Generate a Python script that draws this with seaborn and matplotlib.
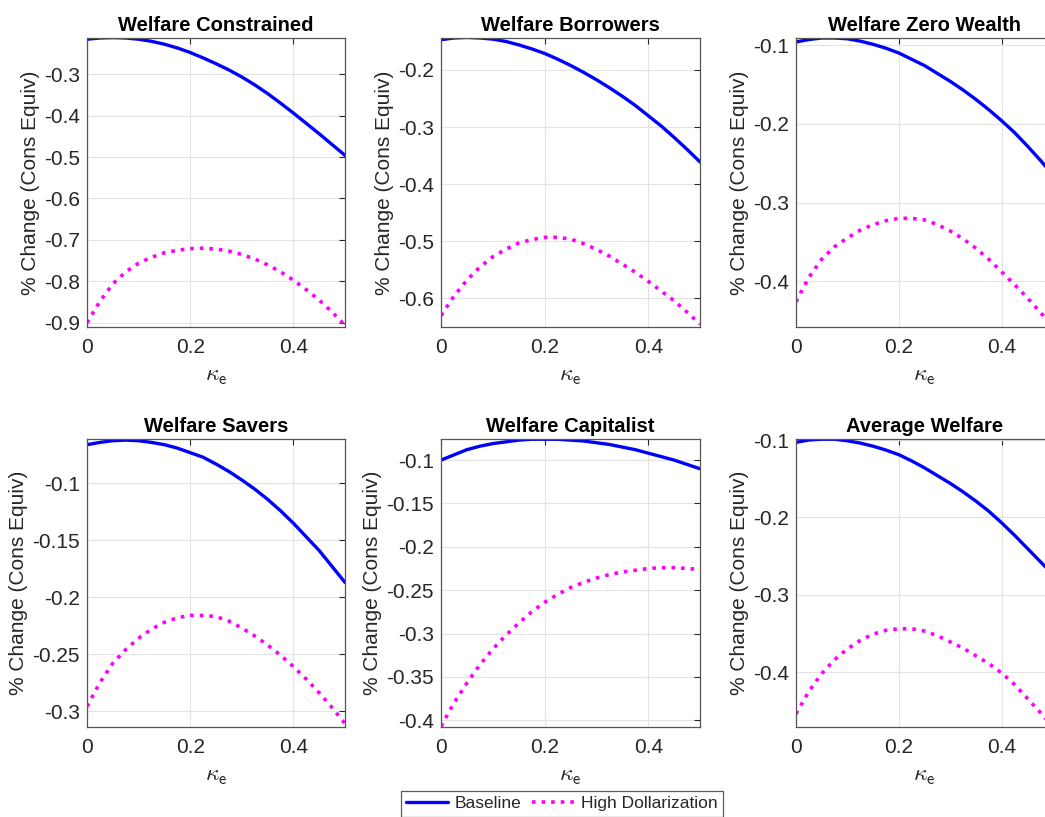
import numpy as np
import seaborn as sns
import matplotlib.pyplot as plt
from matplotlib.ticker import MultipleLocator
from matplotlib.lines import Line2D

# kappa_e grid and welfare changes
kappa = [0.0, 0.025, 0.05, 0.075, 0.10, 0.125, 0.15, 0.175, 0.20, 0.225, 0.25,
         0.275, 0.30, 0.325, 0.35, 0.375, 0.40, 0.425, 0.45, 0.475, 0.50]

titles = ['Welfare Constrained', 'Welfare Borrowers', 'Welfare Zero Wealth',
          'Welfare Savers', 'Welfare Capitalist', 'Average Welfare']

baseline_constrained = [-0.216, -0.213, -0.212, -0.213, -0.216, -0.221, -0.228, -0.237, -0.248, -0.261, -0.275,
                        -0.290, -0.307, -0.326, -0.347, -0.370, -0.394, -0.419, -0.444, -0.470, -0.496]
highdol_constrained = [-0.900, -0.848, -0.806, -0.777, -0.756, -0.742, -0.731, -0.725, -0.721, -0.720, -0.722,
                       -0.727, -0.735, -0.746, -0.760, -0.777, -0.797, -0.820, -0.845, -0.874, -0.906]

baseline_borrowers = [-0.147, -0.144, -0.143, -0.144, -0.146, -0.150, -0.156, -0.163, -0.171, -0.181, -0.192,
                      -0.204, -0.217, -0.231, -0.246, -0.262, -0.280, -0.298, -0.318, -0.339, -0.361]
highdol_borrowers = [-0.630, -0.596, -0.568, -0.545, -0.527, -0.514, -0.503, -0.497, -0.493, -0.493, -0.496,
                     -0.504, -0.514, -0.526, -0.540, -0.554, -0.570, -0.587, -0.604, -0.624, -0.645]

baseline_zero = [-0.096, -0.093, -0.091, -0.091, -0.092, -0.095, -0.099, -0.104, -0.110, -0.118, -0.126,
                 -0.136, -0.146, -0.157, -0.169, -0.182, -0.196, -0.211, -0.228, -0.246, -0.265]
highdol_zero = [-0.426, -0.395, -0.372, -0.356, -0.345, -0.335, -0.328, -0.323, -0.320, -0.320, -0.322,
                -0.328, -0.336, -0.346, -0.358, -0.372, -0.388, -0.404, -0.421, -0.439, -0.458]

baseline_savers = [-0.066, -0.064, -0.0625, -0.062, -0.0625, -0.064, -0.066, -0.069, -0.073, -0.077, -0.083,
                   -0.0895, -0.097, -0.105, -0.114, -0.124, -0.135, -0.147, -0.159, -0.173, -0.187]
highdol_savers = [-0.296, -0.275, -0.258, -0.246, -0.236, -0.228, -0.222, -0.218, -0.216, -0.216, -0.217,
                  -0.221, -0.227, -0.234, -0.242, -0.251, -0.261, -0.272, -0.284, -0.297, -0.311]

baseline_capitalist = [-0.100, -0.094, -0.088, -0.084, -0.081, -0.079, -0.077, -0.076, -0.076, -0.076, -0.077,
                       -0.078, -0.080, -0.082, -0.085, -0.088, -0.092, -0.096, -0.100, -0.105, -0.110]
highdol_capitalist = [-0.407, -0.380, -0.357, -0.336, -0.318, -0.302, -0.288, -0.275, -0.264, -0.255, -0.247,
                      -0.241, -0.236, -0.232, -0.229, -0.227, -0.225, -0.224, -0.224, -0.225, -0.226]

baseline_average = [-0.103, -0.100, -0.099, -0.099, -0.101, -0.104, -0.108, -0.113, -0.119, -0.127, -0.136,
                    -0.146, -0.156, -0.167, -0.179, -0.192, -0.207, -0.223, -0.240, -0.257, -0.274]
highdol_average = [-0.454, -0.425, -0.402, -0.384, -0.370, -0.359, -0.351, -0.346, -0.344, -0.344, -0.347,
                   -0.353, -0.361, -0.369, -0.379, -0.389, -0.401, -0.416, -0.434, -0.452, -0.471]

baselines = [baseline_constrained, baseline_borrowers, baseline_zero,
             baseline_savers, baseline_capitalist, baseline_average]
highdols = [highdol_constrained, highdol_borrowers, highdol_zero,
            highdol_savers, highdol_capitalist, highdol_average]

# axis limits and tick steps (like matlab "axis tight")
ylims = [(-0.910, -0.213), (-0.650, -0.144), (-0.458, -0.091),
         (-0.314, -0.061), (-0.4077, -0.0757), (-0.471, -0.0987)]
ysteps = [0.1, 0.1, 0.1, 0.05, 0.05, 0.1]

sns.set_style('white')
plt.rcParams['font.family'] = ['Liberation Sans', 'DejaVu Sans']
plt.rcParams['axes.unicode_minus'] = False
plt.rcParams['mathtext.fontset'] = 'cm'

W, H = 1045, 817
fig = plt.figure(figsize=(W / 100, H / 100), dpi=100)

# axes boxes in pixels
lefts = [87, 441, 796]
tops = [38, 439]
widths = [258, 259, 257]
heights = [289, 288]

grey = '#262626'
for i in range(6):
    r, c = divmod(i, 3)
    l, t, w, h = lefts[c], tops[r], widths[c], heights[r]
    ax = fig.add_axes([l / W, 1 - (t + h) / H, w / W, h / H])

    sns.lineplot(x=kappa, y=baselines[i], ax=ax, color='#0000ff', lw=2.4, legend=False)
    sns.lineplot(x=kappa, y=highdols[i], ax=ax, color='#ff00ff', lw=2.6, linestyle=':', legend=False)

    ax.set_xlim(0, 0.5)
    ax.set_ylim(*ylims[i])
    ax.xaxis.set_major_locator(MultipleLocator(0.2))
    ax.xaxis.set_major_formatter(plt.FuncFormatter(lambda v, p: '%g' % round(v, 3)))
    ax.yaxis.set_major_locator(MultipleLocator(ysteps[i]))
    ax.yaxis.set_major_formatter(plt.FuncFormatter(lambda v, p: '%g' % round(v, 3)))

    ax.grid(True, color='#e3e3e3', lw=0.8)
    ax.tick_params(direction='in', length=4, width=0.8, colors=grey, labelsize=15,
                   top=True, right=True)
    ax.tick_params(axis='x', pad=8)
    ax.tick_params(axis='y', pad=5)
    for s in ax.spines.values():
        s.set_color('#555555')
        s.set_linewidth(0.9)

    ax.set_title(titles[i], fontsize=14.5, fontweight='bold', color='black', pad=5)
    ax.set_ylabel('% Change (Cons Equiv)', fontsize=15, color=grey, labelpad=3)
    ax.set_xlabel(r'$\kappa_{\mathsf{e}}$', fontsize=17, color=grey, labelpad=6)

handles = [Line2D([], [], color='#0000ff', lw=2.4),
           Line2D([], [], color='#ff00ff', lw=2.6, linestyle=':')]
leg = fig.legend(handles, ['Baseline', 'High Dollarization'], loc='upper center',
                 bbox_to_anchor=(562 / W, 1 - 791 / H), ncol=2, fontsize=12.5,
                 frameon=True, fancybox=False, edgecolor='#333333', handlelength=2.4,
                 columnspacing=0.6, handletextpad=0.4, borderpad=0.3, borderaxespad=0)
leg.get_frame().set_linewidth(0.9)

fig.savefig('out.png', dpi=100)
